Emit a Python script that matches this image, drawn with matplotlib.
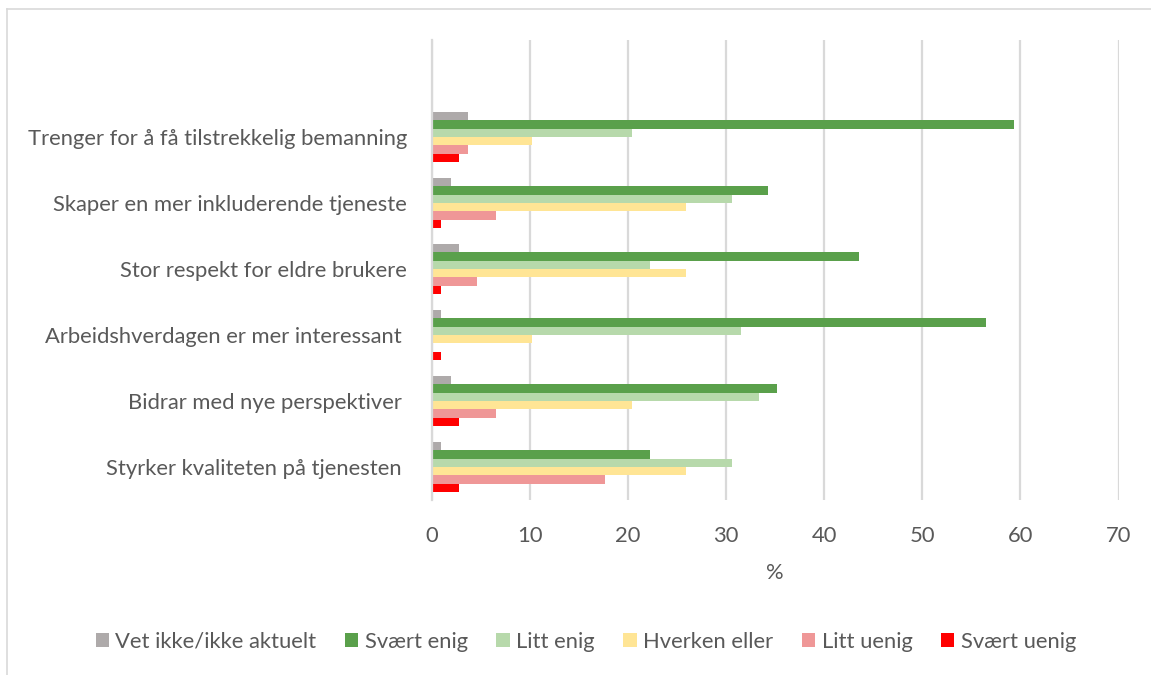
import matplotlib

matplotlib.use("Agg")
import matplotlib.pyplot as plt
from matplotlib.lines import Line2D
from matplotlib.patches import Patch
import numpy as np

plt.rcParams["font.family"] = ["Lato", "DejaVu Sans"]

categories = [
    "Styrker kvaliteten på tjenesten ",
    "Bidrar med nye perspektiver ",
    "Arbeidshverdagen er mer interessant ",
    "Stor respekt for eldre brukere",
    "Skaper en mer inkluderende tjeneste",
    "Trenger for å få tilstrekkelig bemanning",
]
series_names = ["Vet ikke/ikke aktuelt", "Svært enig", "Litt enig",
                "Hverken eller", "Litt uenig", "Svært uenig"]
vet_ikke = [0.9, 1.9, 0.9, 2.8, 1.9, 3.7]
svaert_enig = [22.2, 35.2, 56.5, 43.5, 34.3, 59.3]
litt_enig = [30.6, 33.3, 31.5, 22.2, 30.6, 20.4]
hverken = [25.9, 20.4, 10.2, 25.9, 25.9, 10.2]
litt_uenig = [17.6, 6.5, 0.0, 4.6, 6.5, 3.7]
svaert_uenig = [2.8, 2.8, 0.9, 0.9, 0.9, 2.8]
colors = ["#AEAAAA", "#5AA04B", "#B7D9AB", "#FFE595", "#EF9797", "#FF0000"]

values = [vet_ikke, svaert_enig, litt_enig, hverken, litt_uenig, svaert_uenig]
text_color = "#595959"
grid_color = "#D9D9D9"
fs = 15.8

fig = plt.figure(figsize=(11.51, 6.75), dpi=100)
ax = fig.add_axes([432 / 1151, 1 - 500 / 675, (1118.5 - 432) / 1151, 460 / 675])

y = np.arange(len(categories))
h = 0.127
for k, (name, vals) in enumerate(zip(series_names, values)):
    offset = (2.5 - k) * h
    ax.barh(y + offset, vals, height=h, color=colors[k], label=name)

ax.set_xlim(0, 70)
ax.set_ylim(-0.5, 6.47)
ax.set_xticks(np.arange(0, 71, 10))
ax.set_yticks(y)
ax.set_yticklabels(categories)
ax.tick_params(axis="x", length=0, pad=19, labelsize=fs, labelcolor=text_color)
ax.tick_params(axis="y", length=0, pad=18, labelsize=fs, labelcolor=text_color)
ax.grid(axis="x", color=grid_color, linewidth=1.6)
ax.set_axisbelow(True)
for s in ["top", "right", "bottom"]:
    ax.spines[s].set_visible(False)
ax.spines["left"].set_color(grid_color)
ax.spines["left"].set_linewidth(1.6)
ax.set_xlabel("%", fontsize=fs, color=text_color, labelpad=12)

handles = [Patch(facecolor=c, label=n) for c, n in zip(colors, series_names)]
fig.legend(handles=handles, loc="center", bbox_to_anchor=(0.509, 1 - 642 / 675),
           ncol=6, frameon=False, fontsize=fs, labelcolor=text_color,
           handlelength=0.6, handleheight=0.6, handletextpad=0.3, columnspacing=1.3)

# chart area border (top and left edges only visible)
fig.add_artist(Line2D([7 / 1151, 1], [1 - 9 / 675, 1 - 9 / 675], color=grid_color,
                      linewidth=1.2, transform=fig.transFigure))
fig.add_artist(Line2D([7 / 1151, 7 / 1151], [0, 1 - 9 / 675], color=grid_color,
                      linewidth=1.2, transform=fig.transFigure))

fig.savefig("out.png", dpi=100)
